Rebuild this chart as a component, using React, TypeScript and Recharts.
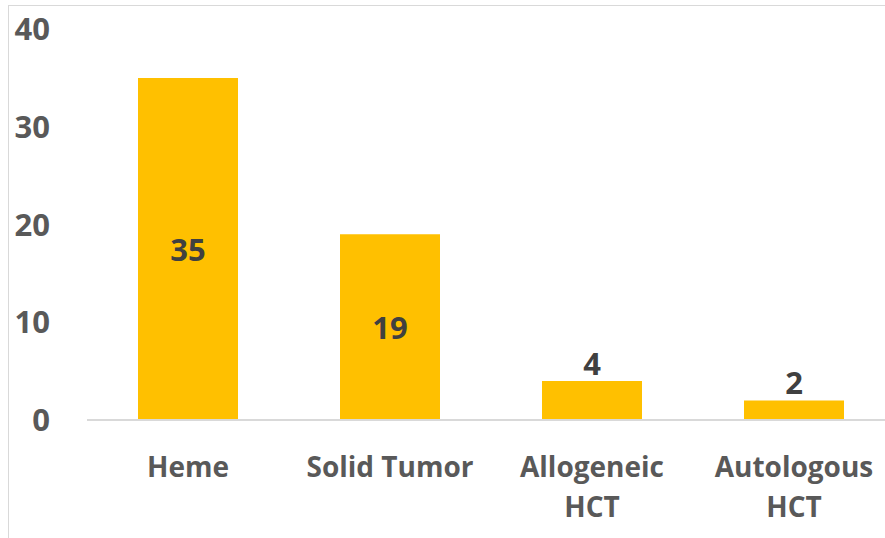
import { Bar, BarChart, LabelList, XAxis, YAxis } from "recharts";

// Values.
const categories = ["Heme", "Solid Tumor", "Allogeneic\nHCT", "Autologous\nHCT"];
const counts = [35, 19, 4, 2];
const yTicks = [0, 10, 20, 30, 40];

const data = categories.map((name, i) => ({ name, count: counts[i] }));

const FONT = "'Open Sans', Lato, sans-serif";
const GOLD = "#FFC000";

function CategoryTick({ x, y, payload }: any) {
  const lines = String(payload.value).split("\n");
  return (
    <text
      x={x}
      y={y}
      textAnchor="middle"
      fill="#595959"
      fontFamily={FONT}
      fontWeight={700}
      fontSize={28}
    >
      {lines.map((line, i) => (
        <tspan key={i} x={x} dy={i === 0 ? 55 : 40}>
          {line}
        </tspan>
      ))}
    </text>
  );
}

// Big bars get the label in the middle, short ones just above the top.
function ValueLabel({ x, y, width, height, value }: any) {
  const inside = height > 60;
  const cy = inside ? y + height / 2 : y - 18;
  return (
    <text
      x={x + width / 2}
      y={cy}
      textAnchor="middle"
      dominantBaseline="central"
      fill="#404040"
      fontFamily={FONT}
      fontWeight={700}
      fontSize={31}
    >
      {value}
    </text>
  );
}

export default function App() {
  return (
    <div
      style={{
        position: "absolute",
        left: 0,
        top: 0,
        width: 885,
        height: 538,
        overflow: "hidden",
        background: "#fff",
      }}
    >
      <div
        style={{
          position: "absolute",
          left: 8,
          top: 5,
          right: 0,
          bottom: 0,
          borderLeft: "1px solid #d9d9d9",
          borderTop: "1px solid #d9d9d9",
        }}
      />
      <BarChart
        width={895}
        height={538}
        data={data}
        margin={{ top: 29, right: 0, bottom: 0, left: 0 }}
        barSize={100}
      >
        <XAxis
          dataKey="name"
          height={118}
          axisLine={{ stroke: "#d9d9d9", strokeWidth: 2 }}
          tickLine={false}
          tickSize={0}
          interval={0}
          tick={<CategoryTick />}
        />
        <YAxis
          width={87}
          domain={[0, 40]}
          ticks={yTicks}
          axisLine={false}
          tickLine={false}
          tickSize={0}
          tickMargin={37}
          tick={{ fill: "#595959", fontFamily: FONT, fontWeight: 700, fontSize: 31 }}
        />
        <Bar dataKey="count" fill={GOLD} isAnimationActive={false}>
          <LabelList dataKey="count" content={<ValueLabel />} />
        </Bar>
      </BarChart>
    </div>
  );
}
